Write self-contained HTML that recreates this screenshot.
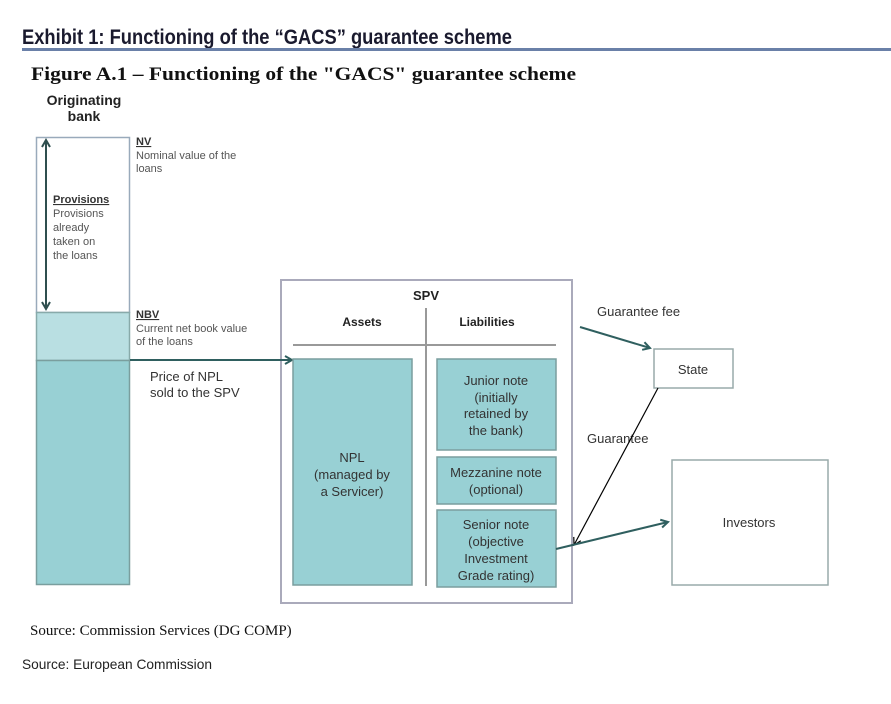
<!DOCTYPE html>
<html><head><style>
html,body{margin:0;padding:0;background:#fff;}
svg{display:block}
</style></head><body>
<svg width="891" height="704" viewBox="0 0 891 704" xmlns="http://www.w3.org/2000/svg" font-family="'Liberation Sans', 'DejaVu Sans', sans-serif">
<defs>
<marker id="ah" markerWidth="10" markerHeight="10" refX="8" refY="5" orient="auto" markerUnits="userSpaceOnUse"><path d="M1,1 L8,5 L1,9" fill="none" stroke="#2f5f5f" stroke-width="2"/></marker>
<marker id="ahb" markerWidth="10" markerHeight="10" refX="8" refY="5" orient="auto" markerUnits="userSpaceOnUse"><path d="M1,1 L8,5 L1,9" fill="none" stroke="#000" stroke-width="1.2"/></marker>
</defs>
<text x="22" y="44" font-size="21" font-weight="bold" fill="#1a1a2e" textLength="490" lengthAdjust="spacingAndGlyphs">Exhibit 1: Functioning of the “GACS” guarantee scheme</text>
<rect x="22" y="48" width="869" height="3" fill="#6a80a8"/>
<text x="31" y="80" font-family="'Liberation Serif',serif" font-size="19" font-weight="bold" fill="#111" textLength="545" lengthAdjust="spacingAndGlyphs">Figure A.1 – Functioning of the "GACS" guarantee scheme</text>

<text x="84" y="105" font-size="14" font-weight="bold" fill="#222" text-anchor="middle">Originating</text>
<text x="84" y="121" font-size="14" font-weight="bold" fill="#222" text-anchor="middle">bank</text>

<rect x="36.5" y="137.5" width="93" height="175" fill="#fff" stroke="#9ab" stroke-width="1.5"/>
<rect x="36.5" y="312.5" width="93" height="48" fill="#b9dfe2" stroke="#8aa" stroke-width="1.5"/>
<rect x="36.5" y="360.5" width="93" height="224" fill="#98d0d4" stroke="#7a9e9e" stroke-width="1.5"/>
<line x1="46" y1="141" x2="46" y2="308" stroke="#2f4f4f" stroke-width="2"/>
<path d="M42,147 L46,140 L50,147 M42,302 L46,309 L50,302" fill="none" stroke="#2f4f4f" stroke-width="2"/>
<g font-size="11" fill="#555">
<text x="53" y="203" font-weight="bold" fill="#333" text-decoration="underline">Provisions</text>
<text x="53" y="217">Provisions</text>
<text x="53" y="231">already</text>
<text x="53" y="245">taken on</text>
<text x="53" y="259">the loans</text>
<text x="136" y="145" font-weight="bold" fill="#333" text-decoration="underline">NV</text>
<text x="136" y="159">Nominal value of the</text>
<text x="136" y="172">loans</text>
<text x="136" y="318" font-weight="bold" fill="#333" text-decoration="underline">NBV</text>
<text x="136" y="332">Current net book value</text>
<text x="136" y="345">of the loans</text>
</g>
<text x="150" y="381" font-size="13" fill="#333">Price of NPL</text>
<text x="150" y="397" font-size="13" fill="#333">sold to the SPV</text>

<rect x="281" y="280" width="291" height="323" fill="#fff" stroke="#aab" stroke-width="2"/>
<line x1="130" y1="360" x2="292" y2="360" stroke="#2f5f5f" stroke-width="2" marker-end="url(#ah)"/>
<text x="426" y="300" font-size="13" font-weight="bold" fill="#222" text-anchor="middle">SPV</text>
<text x="362" y="326" font-size="12" font-weight="bold" fill="#222" text-anchor="middle">Assets</text>
<text x="487" y="326" font-size="12" font-weight="bold" fill="#222" text-anchor="middle">Liabilities</text>
<line x1="293" y1="345" x2="556" y2="345" stroke="#999" stroke-width="2"/>
<line x1="426" y1="308" x2="426" y2="586" stroke="#999" stroke-width="2"/>
<rect x="293" y="359" width="119" height="226" fill="#98d0d4" stroke="#7a9e9e" stroke-width="1.5"/>
<g font-size="13" fill="#333" text-anchor="middle">
<text x="352" y="462">NPL</text>
<text x="352" y="479">(managed by</text>
<text x="352" y="496">a Servicer)</text>
</g>
<rect x="437" y="359" width="119" height="91" fill="#98d0d4" stroke="#7a9e9e" stroke-width="1.5"/>
<rect x="437" y="457" width="119" height="47" fill="#98d0d4" stroke="#7a9e9e" stroke-width="1.5"/>
<rect x="437" y="510" width="119" height="77" fill="#98d0d4" stroke="#7a9e9e" stroke-width="1.5"/>
<g font-size="13" fill="#333" text-anchor="middle">
<text x="496" y="385">Junior note</text>
<text x="496" y="402">(initially</text>
<text x="496" y="418">retained by</text>
<text x="496" y="435">the bank)</text>
<text x="496" y="477">Mezzanine note</text>
<text x="496" y="494">(optional)</text>
<text x="496" y="529">Senior note</text>
<text x="496" y="546">(objective</text>
<text x="496" y="563">Investment</text>
<text x="496" y="580">Grade rating)</text>
</g>

<text x="597" y="316" font-size="13" fill="#333">Guarantee fee</text>
<line x1="580" y1="327" x2="650" y2="348" stroke="#2f5f5f" stroke-width="2" marker-end="url(#ah)"/>
<rect x="654" y="349" width="79" height="39" fill="#fff" stroke="#9aa" stroke-width="1.5"/>
<text x="693" y="374" font-size="13" fill="#333" text-anchor="middle">State</text>
<text x="587" y="443" font-size="13" fill="#333">Guarantee</text>
<line x1="658" y1="388" x2="574" y2="545" stroke="#000" stroke-width="1.2" marker-end="url(#ahb)"/>
<line x1="556" y1="549" x2="668" y2="522" stroke="#2f5f5f" stroke-width="2" marker-end="url(#ah)"/>
<rect x="672" y="460" width="156" height="125" fill="#fff" stroke="#9aa" stroke-width="1.5"/>
<text x="749" y="527" font-size="13" fill="#333" text-anchor="middle">Investors</text>

<text x="30" y="635" font-family="'Liberation Serif',serif" font-size="15" fill="#111">Source: Commission Services (DG COMP)</text>
<text x="22" y="669" font-size="14" fill="#222" textLength="190" lengthAdjust="spacingAndGlyphs">Source: European Commission</text>
</svg>
</body></html>
